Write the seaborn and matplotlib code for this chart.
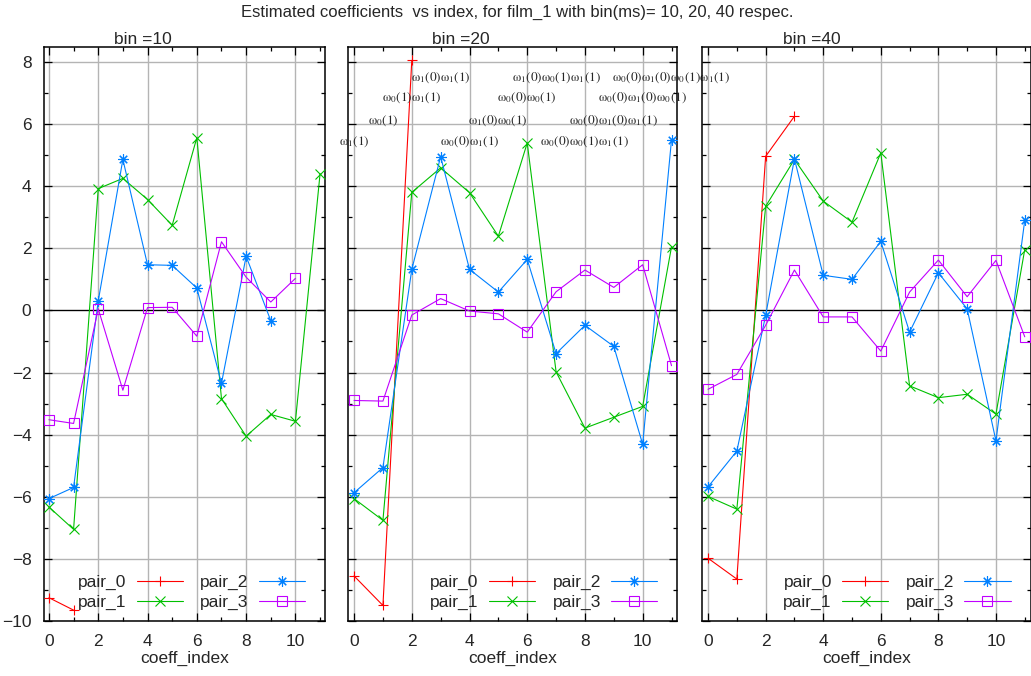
import matplotlib
matplotlib.use("Agg")
import matplotlib.pyplot as plt
from matplotlib.ticker import MultipleLocator
import pandas as pd
import seaborn as sns

# ---- data -------------------------------------------------------------
coeff_index = list(range(12))
bin_sizes = [10, 20, 40]
pair_names = ["pair_0", "pair_1", "pair_2", "pair_3"]

bin10_pair_0 = [-9.25, -9.65]
bin10_pair_1 = [-6.33, -7.05, 3.92, 4.25, 3.57, 2.74, 5.56, -2.84, -4.05, -3.35, -3.57, 4.40]
bin10_pair_2 = [-6.06, -5.70, 0.30, 4.86, 1.47, 1.45, 0.72, -2.35, 1.74, -0.33]
bin10_pair_3 = [-3.52, -3.64, 0.05, -2.57, 0.09, 0.10, -0.83, 2.21, 1.07, 0.27, 1.03]

bin20_pair_0 = [-8.55, -9.50, 8.05]
bin20_pair_1 = [-6.06, -6.76, 3.80, 4.59, 3.79, 2.39, 5.39, -1.98, -3.79, -3.44, -3.09, 2.05]
bin20_pair_2 = [-5.87, -5.06, 1.32, 4.95, 1.32, 0.59, 1.64, -1.39, -0.48, -1.16, -4.31, 5.50]
bin20_pair_3 = [-2.90, -2.92, -0.15, 0.38, -0.02, -0.11, -0.70, 0.60, 1.30, 0.74, 1.47, -1.78]

bin40_pair_0 = [-7.98, -8.65, 4.96, 6.25]
bin40_pair_1 = [-5.99, -6.40, 3.35, 4.86, 3.52, 2.84, 5.07, -2.43, -2.81, -2.70, -3.34, 1.96]
bin40_pair_2 = [-5.68, -4.53, -0.16, 4.88, 1.13, 1.00, 2.22, -0.70, 1.21, 0.05, -4.20, 2.90]
bin40_pair_3 = [-2.54, -2.06, -0.48, 1.30, -0.21, -0.21, -1.31, 0.59, 1.62, 0.44, 1.61, -0.85]

# term names for each coefficient index
term_labels = [
    r"$\mathrm{\omega}_1(1)$",
    r"$\mathrm{\omega}_0(1)$",
    r"$\mathrm{\omega}_0(1)\mathrm{\omega}_1(1)$",
    r"$\mathrm{\omega}_1(0)\mathrm{\omega}_1(1)$",
    r"$\mathrm{\omega}_0(0)\mathrm{\omega}_1(1)$",
    r"$\mathrm{\omega}_1(0)\mathrm{\omega}_0(1)$",
    r"$\mathrm{\omega}_0(0)\mathrm{\omega}_0(1)$",
    r"$\mathrm{\omega}_1(0)\mathrm{\omega}_0(1)\mathrm{\omega}_1(1)$",
    r"$\mathrm{\omega}_0(0)\mathrm{\omega}_0(1)\mathrm{\omega}_1(1)$",
    r"$\mathrm{\omega}_0(0)\mathrm{\omega}_1(0)\mathrm{\omega}_1(1)$",
    r"$\mathrm{\omega}_0(0)\mathrm{\omega}_1(0)\mathrm{\omega}_0(1)$",
    r"$\mathrm{\omega}_0(0)\mathrm{\omega}_1(0)\mathrm{\omega}_0(1)\mathrm{\omega}_1(1)$",
]

series = {
    10: [bin10_pair_0, bin10_pair_1, bin10_pair_2, bin10_pair_3],
    20: [bin20_pair_0, bin20_pair_1, bin20_pair_2, bin20_pair_3],
    40: [bin40_pair_0, bin40_pair_1, bin40_pair_2, bin40_pair_3],
}

# ---- style ------------------------------------------------------------
sns.set_style("white")
plt.rcParams["font.family"] = ["Liberation Sans", "DejaVu Sans"]
plt.rcParams["mathtext.fontset"] = "stix"

FS = 12.5
colors = ["#ff0000", "#00c000", "#0080ff", "#c000ff"]
markers = ["+", "x", (8, 2, 0), "s"]
msizes = [7.5, 7, 7.5, 6.5]
label_levels = [5.43, 6.12, 6.85, 7.49]

W, H = 1031, 676
fig = plt.figure(figsize=(W / 100, H / 100), dpi=100)
fig.patch.set_facecolor("white")

TOP, BOTTOM = 47, 621
boxes = [(44, 325), (348.3, 677.3), (702.3, 1030.5)]
title_x = [143, 461, 812]


def px_axes(left, right):
    return fig.add_axes([left / W, 1 - BOTTOM / H, (right - left) / W, (BOTTOM - TOP) / H])


for k, (b, (l, r)) in enumerate(zip(bin_sizes, boxes)):
    ax = px_axes(l, r)
    ax.set_facecolor("none")
    for name, vals, c, m, ms in zip(pair_names, series[b], colors, markers, msizes):
        df = pd.DataFrame({"coeff_index": coeff_index[: len(vals)], "value": vals})
        sns.lineplot(
            data=df, x="coeff_index", y="value", ax=ax, color=c, marker=m,
            markersize=ms, markeredgecolor=c, markerfacecolor="none",
            markeredgewidth=0.8, linewidth=0.8, label=name, zorder=3,
        )

    ax.set_xlim(-0.2, 11.2)
    ax.set_ylim(-10, 8.48)
    ax.xaxis.set_major_locator(MultipleLocator(2))
    ax.xaxis.set_minor_locator(MultipleLocator(1))
    ax.yaxis.set_major_locator(MultipleLocator(2))
    ax.yaxis.set_minor_locator(MultipleLocator(1))
    ax.tick_params(which="both", direction="in", top=True, right=True,
                   bottom=True, left=True, color="black", width=0.9)
    ax.tick_params(which="major", length=5.8, labelsize=FS, pad=9)
    ax.tick_params(which="minor", length=3.2)
    if k > 0:
        ax.tick_params(labelleft=False)
    ax.grid(True, which="major", color="#b4b4b4", linewidth=1.0)
    ax.set_axisbelow(True)
    ax.axhline(0, color="black", linewidth=0.9, zorder=2)
    for sp in ax.spines.values():
        sp.set_color("black")
        sp.set_linewidth(1.1)
    ax.set_xlabel("coeff_index", fontsize=FS, labelpad=2)
    ax.set_ylabel("")

    fig.text(title_x[k] / W, 1 - 40 / H, f"bin ={b}", ha="center", va="center", fontsize=FS)

    if b == 20:
        for i, lab in enumerate(term_labels):
            ax.text(coeff_index[i], label_levels[i % 4], lab, ha="center", va="center",
                    fontsize=9.5, clip_on=False, zorder=6)

    ax.legend(
        ncol=2, loc="lower right",
        bbox_to_anchor=(1 - 20 / (r - l), 11 / (BOTTOM - TOP)),
        frameon=False, markerfirst=False, fontsize=FS,
        handlelength=2.65, handletextpad=0.6, columnspacing=1.0,
        labelspacing=0.25, borderpad=0, borderaxespad=0,
    )

fig.text(517.5 / W, 1 - 12 / H,
         "Estimated coefficients  vs index, for film_1 with bin(ms)= 10, 20, 40 respec.",
         ha="center", va="center", fontsize=12)

fig.savefig("out.png", dpi=100)
